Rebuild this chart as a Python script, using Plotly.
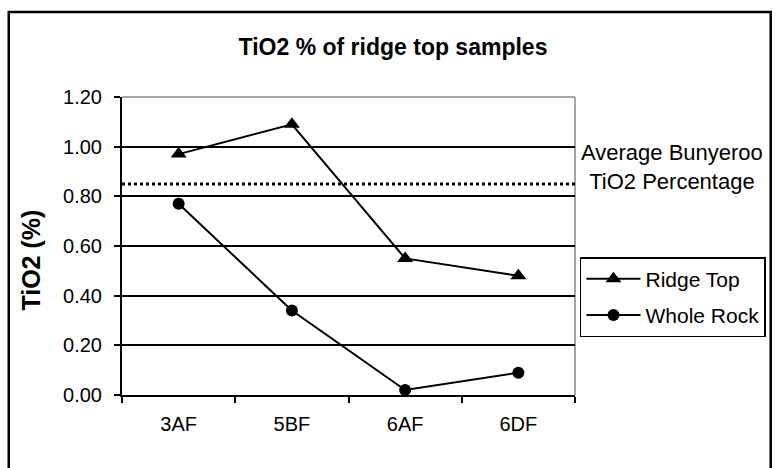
import plotly.graph_objects as go

samples = ["3AF", "5BF", "6AF", "6DF"]
ridge_top = [0.97, 1.09, 0.55, 0.48]
whole_rock = [0.77, 0.34, 0.02, 0.09]
avg_bunyeroo = 0.85
y_ticks = [0.0, 0.2, 0.4, 0.6, 0.8, 1.0, 1.2]

FONT = "Arial, Liberation Sans, sans-serif"

# plot area in pixels
L, R, T, B = 122, 578, 97, 395
W, H = 778, 468
pw, ph = R - L, B - T

def px(x):
    return (x - L) / pw

def py(y):
    return (B - y) / ph

fig = go.Figure()
fig.add_trace(go.Scatter(
    x=samples, y=ridge_top, name="Ridge Top", mode="lines+markers",
    legendgroup="a",
    line=dict(color="black", width=2),
    marker=dict(symbol="triangle-up", size=14, color="black"),
))
fig.add_trace(go.Scatter(
    x=samples, y=whole_rock, name="Whole Rock", mode="lines+markers",
    legendgroup="b",
    line=dict(color="black", width=2),
    marker=dict(symbol="circle", size=12, color="black"),
))

shapes = [
    # outer chart frame
    dict(type="rect", xref="paper", yref="paper",
         x0=px(8), x1=px(775), y0=py(475), y1=py(12),
         line=dict(color="black", width=2.5), layer="above"),
    # gray plot border (top / right)
    dict(type="line", xref="paper", yref="paper", x0=0, x1=1, y0=1, y1=1,
         line=dict(color="#888888", width=1.5), layer="below"),
    dict(type="line", xref="paper", yref="paper", x0=1, x1=1, y0=0, y1=1,
         line=dict(color="#888888", width=1.5), layer="below"),
    # average line
    dict(type="line", xref="paper", yref="y", x0=0, x1=1,
         y0=avg_bunyeroo, y1=avg_bunyeroo,
         line=dict(color="black", width=3, dash="dot")),
]

annotations = [
    dict(text="Average Bunyeroo<br>TiO2 Percentage", xref="paper", yref="paper",
         x=px(676), y=py(167), xanchor="center", yanchor="middle",
         showarrow=False, font=dict(family=FONT, size=22, color="black")),
    dict(text="<b>TiO2 (%)</b>", xref="paper", yref="paper",
         x=px(30), y=py(260), xanchor="center", yanchor="middle",
         textangle=-90, showarrow=False,
         font=dict(family=FONT, size=25, color="black")),
]

fig.update_layout(
    width=W, height=H,
    margin=dict(l=L, r=W - R, t=T, b=H - B),
    paper_bgcolor="white", plot_bgcolor="white",
    font=dict(family=FONT, size=20, color="black"),
    title=dict(text="<b>TiO2 % of ridge top samples</b>",
               x=393 / W, xanchor="center", y=1 - 47 / H, yanchor="middle",
               font=dict(family=FONT, size=23, color="black")),
    showlegend=True,
    legend=dict(x=px(583), y=py(257), xanchor="left", yanchor="top",
                bordercolor="black", borderwidth=1.5, bgcolor="white",
                font=dict(family=FONT, size=21, color="black"),
                tracegroupgap=6, itemwidth=54),
    shapes=shapes,
    annotations=annotations,
)

fig.update_xaxes(
    type="category", range=[-0.5, 3.5],
    showline=True, linecolor="black", linewidth=2,
    ticks="outside", tickson="boundaries", ticklen=6, tickwidth=1.5, tickcolor="black",
    showgrid=False, zeroline=False,
    tickfont=dict(family=FONT, size=20, color="black"),
    ticklabelstandoff=10,
)
fig.update_yaxes(
    range=[0, 1.2], tickvals=y_ticks, tickformat=".2f",
    showline=True, linecolor="black", linewidth=2,
    ticks="outside", ticklen=6, tickwidth=1.5, tickcolor="black",
    showgrid=True, gridcolor="black", gridwidth=1.5, zeroline=False,
    tickfont=dict(family=FONT, size=20, color="black"),
    ticklabelstandoff=8,
)

fig.write_html("out.html")
